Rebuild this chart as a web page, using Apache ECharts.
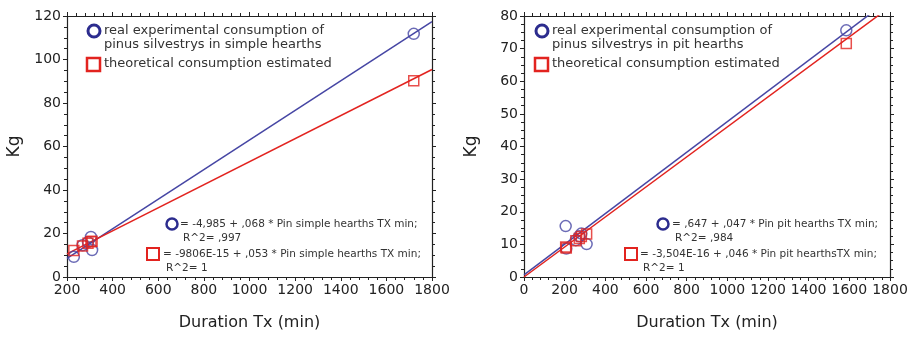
<!DOCTYPE html>
<html>
<head>
<meta charset="utf-8">
<script src="https://cdn.jsdelivr.net/npm/echarts@6/dist/echarts.min.js"></script>
<style>
  html, body { margin: 0; padding: 0; background: #fff; }
  #chart { width: 912px; height: 338px; }
</style>
</head>
<body>
<div id="chart"></div>
<script>
// simple hearths (left panel)
var simpleTx = [230, 268, 292, 305, 310, 1720];
var simpleReal = [9.3, 14.6, 16, 18.4, 12.4, 111.8];
var simpleTheo = [12.2, 14.2, 15.5, 16.2, 16.4, 90.2];
var simpleFitX = [200, 1800];
var simpleFitReal = [8.6, 117.4];
var simpleFitTheo = [10.6, 95.4];

// pit hearths (right panel)
var pitTx = [205, 208, 255, 272, 282, 308, 1585];
var pitReal = [15.6, 8.7, 11.3, 12.5, 13.3, 10.1, 75.6];
var pitTheo = [9.2, 8.9, 11.1, 11.8, 12.4, 13.2, 71.6];
var pitFitX = [0, 1800];
var pitFitReal = [0.65, 85.2];
var pitFitTheo = [0, 82.8];

var BLUE = '#2c2c8e';
var BLUE_LINE = '#4646a4';
var RED = '#e2231f';
var FONT = 'DejaVu Sans';

function pairs(xs, ys) {
  return xs.map(function (x, i) { return [x, ys[i]]; });
}

function xAxisOf(grid, min, max, pos) {
  var main = pos === 'bottom';
  return {
    type: 'value', gridIndex: grid, position: pos, min: min, max: max, interval: 200,
    name: main ? 'Duration Tx (min)' : '', nameLocation: 'middle', nameGap: 38,
    nameTextStyle: { fontFamily: FONT, fontSize: 16, color: '#222' },
    axisLine: { show: true, onZero: false, lineStyle: { color: '#222', width: 1.2 } },
    axisTick: { show: true, length: 4, lineStyle: { color: '#222' } },
    minorTick: { show: true, splitNumber: 5, length: 3, lineStyle: { color: '#222' } },
    axisLabel: { show: main, fontFamily: FONT, fontSize: 14, color: '#222', margin: 6,
      formatter: function (v) { return String(v); } },
    splitLine: { show: false }
  };
}

function yAxisOf(grid, max, interval, pos) {
  var main = pos === 'left';
  return {
    type: 'value', gridIndex: grid, position: pos, min: 0, max: max, interval: interval,
    name: main ? 'Kg' : '', nameLocation: 'middle', nameGap: 44, nameRotate: 90,
    nameTextStyle: { fontFamily: FONT, fontSize: 17, color: '#222' },
    axisLine: { show: true, onZero: false, lineStyle: { color: '#222', width: 1.2 } },
    axisTick: { show: true, length: 4, lineStyle: { color: '#222' } },
    minorTick: { show: true, splitNumber: 4, length: 3, lineStyle: { color: '#222' } },
    axisLabel: { show: main, fontFamily: FONT, fontSize: 14, color: '#222', margin: 6 },
    splitLine: { show: false }
  };
}

function scatter(idx, data, shape, color) {
  return {
    type: 'scatter', xAxisIndex: idx, yAxisIndex: idx, data: data,
    symbol: shape, symbolSize: shape === 'circle' ? 11 : 10,
    itemStyle: { color: 'rgba(0,0,0,0)', borderColor: color, borderWidth: 1.5 },
    z: 3
  };
}

function fit(idx, data, color) {
  return {
    type: 'line', xAxisIndex: idx, yAxisIndex: idx, data: data,
    symbol: 'none', clip: true,
    lineStyle: { color: color, width: 1.5 }
  };
}

function legendMarks(x0, line2) {
  var f = '13px ' + FONT;
  return [
    { type: 'circle', shape: { cx: x0, cy: 31, r: 6 }, style: { fill: 'none', stroke: BLUE, lineWidth: 3 } },
    { type: 'text', style: { x: x0 + 10, y: 31, text: 'real experimental consumption of', font: f, fill: '#333', verticalAlign: 'middle' } },
    { type: 'text', style: { x: x0 + 10, y: 45, text: line2, font: f, fill: '#333', verticalAlign: 'middle' } },
    { type: 'rect', shape: { x: x0 - 7, y: 58, width: 13, height: 13 }, style: { fill: 'none', stroke: RED, lineWidth: 2.5 } },
    { type: 'text', style: { x: x0 + 10, y: 64, text: 'theoretical consumption estimated', font: f, fill: '#333', verticalAlign: 'middle' } }
  ];
}

function eqMarks(cx, tx, sqx, stx, eq1, r1, eq2) {
  var f = '10.5px ' + FONT;
  return [
    { type: 'circle', shape: { cx: cx, cy: 224, r: 5.5 }, style: { fill: 'none', stroke: BLUE, lineWidth: 2.5 } },
    { type: 'text', style: { x: tx, y: 224, text: eq1, font: f, fill: '#333', verticalAlign: 'middle' } },
    { type: 'text', style: { x: tx + 3, y: 238, text: r1, font: f, fill: '#333', verticalAlign: 'middle' } },
    { type: 'rect', shape: { x: sqx - 6, y: 248, width: 12, height: 12 }, style: { fill: 'none', stroke: RED, lineWidth: 2 } },
    { type: 'text', style: { x: stx, y: 254, text: eq2, font: f, fill: '#333', verticalAlign: 'middle' } },
    { type: 'text', style: { x: stx + 3, y: 268, text: 'R^2= 1', font: f, fill: '#333', verticalAlign: 'middle' } }
  ];
}

var chart = echarts.init(document.getElementById('chart'), null, { renderer: 'canvas' });

var option = {
  backgroundColor: '#fff',
  animation: false,
  grid: [
    { left: 67, right: 480, top: 16, bottom: 61 },
    { left: 524, right: 22, top: 16, bottom: 61 }
  ],
  xAxis: [
    xAxisOf(0, 200, 1800, 'bottom'),
    xAxisOf(1, 0, 1800, 'bottom'),
    xAxisOf(0, 200, 1800, 'top'),
    xAxisOf(1, 0, 1800, 'top')
  ],
  yAxis: [
    yAxisOf(0, 120, 20, 'left'),
    yAxisOf(1, 80, 10, 'left'),
    yAxisOf(0, 120, 20, 'right'),
    yAxisOf(1, 80, 10, 'right')
  ],
  series: [
    fit(0, pairs(simpleFitX, simpleFitReal), BLUE_LINE),
    fit(0, pairs(simpleFitX, simpleFitTheo), RED),
    scatter(0, pairs(simpleTx, simpleReal), 'circle', BLUE_LINE),
    scatter(0, pairs(simpleTx, simpleTheo), 'rect', RED),
    fit(1, pairs(pitFitX, pitFitReal), BLUE_LINE),
    fit(1, pairs(pitFitX, pitFitTheo), RED),
    scatter(1, pairs(pitTx, pitReal), 'circle', BLUE_LINE),
    scatter(1, pairs(pitTx, pitTheo), 'rect', RED)
  ],
  graphic: [].concat(
    legendMarks(94, 'pinus silvestrys in simple hearths'),
    legendMarks(542, 'pinus silvestrys in pit hearths'),
    eqMarks(172, 180, 153, 163,
      '= -4,985 + ,068 * Pin simple hearths TX min;', 'R^2= ,997',
      '= -9806E-15 + ,053 * Pin simple hearths TX min;'),
    eqMarks(663, 672, 631, 640,
      '= ,647 + ,047 * Pin pit hearths TX min;', 'R^2= ,984',
      '= -3,504E-16 + ,046 * Pin pit hearthsTX min;')
  )
};

chart.setOption(option);
</script>
</body>
</html>
